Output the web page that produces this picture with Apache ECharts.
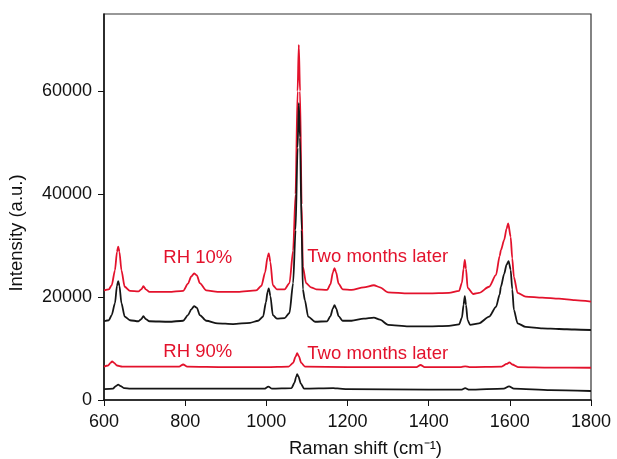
<!DOCTYPE html>
<html><head><meta charset="utf-8">
<script src="https://cdn.jsdelivr.net/npm/echarts@6/dist/echarts.min.js"></script>
<style>html,body{margin:0;padding:0;background:#fff}#c{width:617px;height:459px}</style>
</head><body><div id="c"></div>
<script>
// Raman shift (cm^-1), intensity (a.u.)
const rh10Later = [[600,21300],[612,21500],[619,22300],[627,25200],[632,28800],[635,29800],[638,28800],[643,25200],[651,22000],[664,21200],[685,21100],[692,21500],[697,22100],[703,21500],[712,21000],[760,21000],[795,21200],[807,22600],[815,24000],[822,24600],[829,24200],[836,22700],[852,21300],[880,21000],[930,21000],[975,21300],[988,22200],[997,24800],[1003,27800],[1006,28500],[1010,26800],[1016,22300],[1026,21500],[1045,21500],[1057,22700],[1066,29000],[1072,40000],[1077,60000],[1080,69000],[1083,60000],[1087,38000],[1090,25900],[1098,22700],[1110,21900],[1123,21500],[1150,21400],[1158,22500],[1164,24800],[1168,25600],[1172,24800],[1178,22600],[1188,21500],[1210,21400],[1240,21900],[1265,22300],[1280,21900],[1300,20900],[1350,20700],[1400,20700],[1450,20800],[1475,21200],[1482,22800],[1486,25500],[1489,27200],[1492,25500],[1496,21800],[1510,20600],[1524,20800],[1549,22000],[1566,24300],[1575,28000],[1578,29100],[1586,31100],[1592,33300],[1596,34300],[1602,31700],[1606,27500],[1610,23900],[1619,20800],[1639,20100],[1680,19900],[1721,19700],[1760,19400],[1800,19100]];
const rh10Initial = [[600,15300],[612,15500],[619,16500],[627,18800],[632,22200],[635,23100],[638,22200],[643,18800],[651,16200],[664,15500],[685,15300],[692,15700],[697,16300],[703,15700],[712,15300],[760,15200],[795,15400],[807,16500],[815,17600],[822,18250],[829,17900],[836,16500],[852,15400],[880,14900],[918,14750],[960,15000],[980,15400],[992,16200],[999,19000],[1003,21000],[1006,21700],[1010,20200],[1016,16500],[1026,15800],[1045,15900],[1057,16900],[1066,22700],[1072,33000],[1077,49000],[1080,57700],[1083,51000],[1087,33000],[1090,21500],[1095,19400],[1103,16200],[1120,15200],[1150,15300],[1158,16300],[1164,17800],[1168,18450],[1172,17800],[1178,16300],[1188,15400],[1210,15400],[1240,15800],[1265,16000],[1280,15600],[1300,14600],[1350,14300],[1400,14300],[1450,14400],[1475,14700],[1482,16000],[1486,18500],[1489,20200],[1492,18500],[1496,15500],[1502,14600],[1524,14900],[1549,16200],[1566,18100],[1575,20500],[1578,22000],[1586,24500],[1592,26300],[1597,27000],[1602,25300],[1606,21500],[1610,17500],[1619,14900],[1639,14200],[1680,13900],[1721,13800],[1760,13700],[1800,13600]];
const rh90Later = [[600,6500],[610,6700],[616,7200],[620,7500],[625,7200],[632,6700],[645,6500],[700,6500],[785,6500],[795,6900],[805,6500],[900,6400],[1000,6400],[1055,6500],[1066,7200],[1072,8400],[1076,9100],[1080,8500],[1086,7200],[1095,6500],[1200,6400],[1300,6400],[1370,6400],[1380,6800],[1390,6400],[1480,6400],[1490,6550],[1500,6400],[1580,6500],[1592,7000],[1599,7300],[1606,6900],[1620,6400],[1700,6300],[1800,6270]];
const rh90Initial = [[600,2100],[622,2200],[629,2700],[635,3000],[641,2700],[650,2300],[665,2200],[800,2200],[995,2200],[1005,2600],[1014,2200],[1062,2300],[1069,3300],[1074,4600],[1076,5000],[1079,4600],[1085,3200],[1093,2200],[1165,2300],[1175,2250],[1200,2100],[1400,2000],[1480,2000],[1490,2300],[1500,2000],[1585,2200],[1598,2650],[1610,2200],[1700,1900],[1800,1750]];
const annotations = [
  {name:'RH 10%', coord:[831,27700], align:'center'},
  {name:'Two months later', coord:[1101,27900], align:'left'},
  {name:'RH 90%', coord:[831,9300], align:'center'},
  {name:'Two months later', coord:[1101,8900], align:'left'}
];
const xTicks = {min:600, max:1800, interval:200};
const yTicks = {min:0, max:75000, interval:20000};

const RED = '#e3122c', BLACK = '#161616';
const FONT = 'Liberation Sans, Arial, sans-serif';
const chart = echarts.init(document.getElementById('c'), null, {renderer:'canvas'});
function line(data, color, z){
  return {type:'line', data, showSymbol:false, symbol:'none', z, smooth:0.25, smoothMonotone:'x',
    lineStyle:{color, width:1.8}, itemStyle:{color}, animation:false};
}
const s1 = line(rh90Initial, BLACK, 2);
const s2 = line(rh90Later, RED, 3);
const s3 = line(rh10Initial, BLACK, 4);
const s4 = line(rh10Later, RED, 3);
s4.markPoint = {
  symbol:'circle', symbolSize:0, animation:false,
  data: annotations.map(a => ({name:a.name, coord:a.coord,
    label:{show:true, formatter:a.name, position: a.align==='left' ? 'right' : 'inside', distance:0,
      color:RED, fontSize:18.5, fontFamily:FONT}}))
};
chart.setOption({
  animation:false,
  grid:{left:104, right:26, top:14, bottom:59, show:true, borderColor:'#333', borderWidth:1.2,
    backgroundColor:'transparent', containLabel:false, outerBoundsMode:'none'},
  xAxis:{type:'value', min:xTicks.min, max:xTicks.max, interval:xTicks.interval,
    name:'Raman shift (cm\u207B\u00B9)', nameLocation:'middle', nameGap:39,
    nameTextStyle:{fontSize:18.5, color:'#111', fontFamily:FONT, padding:[0,0,0,36]},
    axisLine:{lineStyle:{color:'#111', width:1.5}}, axisTick:{length:6, lineStyle:{color:'#111'}},
    axisLabel:{fontSize:18, color:'#111', fontFamily:FONT, margin:13, formatter:v=>String(v)}, splitLine:{show:false}},
  yAxis:{type:'value', min:yTicks.min, max:yTicks.max, interval:yTicks.interval,
    name:'Intensity (a.u.)', nameLocation:'middle', nameGap:78,
    nameTextStyle:{fontSize:18.5, color:'#111', fontFamily:FONT, padding:[0,52,0,0]},
    axisLine:{show:true, lineStyle:{color:'#111', width:1.5}}, axisTick:{show:true, length:6, lineStyle:{color:'#111'}},
    axisLabel:{fontSize:18, color:'#111', fontFamily:FONT, margin:12, showMaxLabel:false, formatter:v=>String(v)}, splitLine:{show:false}},
  series:[s1, s2, s3, s4]
});
</script></body></html>
